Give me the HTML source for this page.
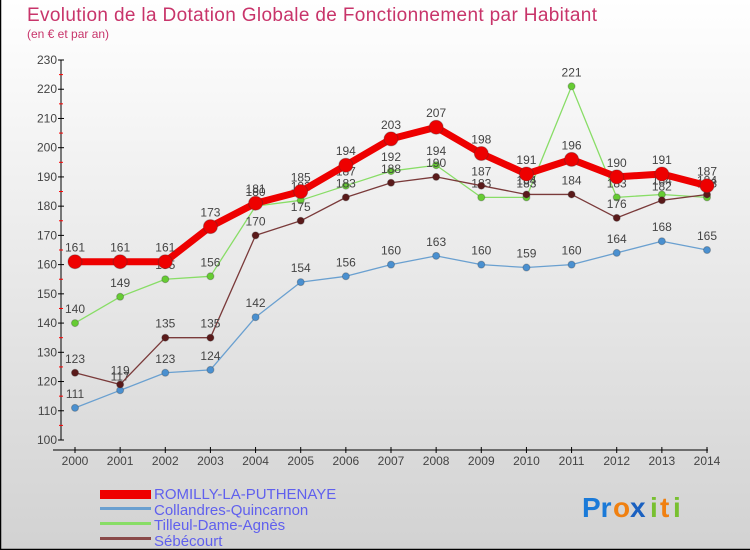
<!DOCTYPE html>
<html><head><meta charset="utf-8"><style>
html,body{margin:0;padding:0;width:750px;height:550px;overflow:hidden}
svg{display:block;font-family:"Liberation Sans",sans-serif}
</style></head><body>
<svg id="chart" width="750" height="550" xmlns="http://www.w3.org/2000/svg">
<defs><linearGradient id="bg" x1="0" y1="0" x2="0" y2="1"><stop offset="0" stop-color="#ffffff"/><stop offset="1" stop-color="#d2d2d2"/></linearGradient></defs>
<rect x="0" y="0" width="750" height="550" fill="url(#bg)"/>
<path d="M0.5,0 V549.5 H750" fill="none" stroke="#000" stroke-width="1.5"/>
<text x="27" y="21" font-size="19" fill="#c8346a" textLength="570">Evolution de la Dotation Globale de Fonctionnement par Habitant</text>
<text x="27" y="38" font-size="12" fill="#c8346a">(en € et par an)</text>
<g id="axes"></g><g id="series"></g>
<g font-size="15" fill="#6060ee">
<rect x="100" y="490" width="51" height="9" fill="#e00"/>
<text x="154" y="499">ROMILLY-LA-PUTHENAYE</text>
<rect x="100" y="507" width="51" height="3" fill="#6aa0d0"/>
<text x="154" y="515">Collandres-Quincarnon</text>
<rect x="100" y="522" width="51" height="3" fill="#88dd66"/>
<text x="154" y="530">Tilleul-Dame-Agnès</text>
<rect x="100" y="537" width="51" height="3" fill="#8a4a4a"/>
<text x="154" y="546">Sébécourt</text>
</g>
<g font-size="28" font-weight="bold">
<text x="582" y="517" fill="#1a7ad8">Pr</text><text x="613" y="517" fill="#f08010">o</text><text x="630" y="517" fill="#1a60c0">x</text><text x="650" y="517" fill="#78c030">i</text><text x="660" y="517" fill="#f08010">t</text><text x="673" y="517" fill="#78c030">i</text>
</g>
</svg>
<script>
const years=["2000","2001","2002","2003","2004","2005","2006","2007","2008","2009","2010","2011","2012","2013","2014"];
const yTicks=[100,110,120,130,140,150,160,170,180,190,200,210,220,230];
const romilly=[161,161,161,173,181,185,194,203,207,198,191,196,190,191,187];
const collandres=[111,117,123,124,142,154,156,160,163,160,159,160,164,168,165];
const tilleul=[140,149,155,156,180,182,187,192,194,183,183,221,183,184,183];
const sebecourt=[123,119,135,135,170,175,183,188,190,187,184,184,176,182,184];
const NS="http://www.w3.org/2000/svg";
function xS(i){return 75+i*(707-75)/(years.length-1);}
function yS(v){return 440-(v-100)*(380/130);}
function mk(tag,attrs,parent){const e=document.createElementNS(NS,tag);for(const k in attrs)e.setAttribute(k,attrs[k]);parent.appendChild(e);return e;}
const axes=document.getElementById('axes');
let yl=mk('line',{x1:61,y1:60,x2:61,y2:440,stroke:'#000','stroke-width':1},axes);


let xl=mk('line',{x1:53,y1:450,x2:708,y2:450,stroke:'#000','stroke-width':1},axes);


yTicks.forEach((v,i)=>{
  mk('line',{x1:58,x2:64,y1:yS(v),y2:yS(v),stroke:'#000'},axes);
  if(i<yTicks.length-1){mk('line',{x1:59,x2:63,y1:yS(v+5),y2:yS(v+5),stroke:'#f00'},axes);}
  const t=mk('text',{x:57,y:yS(v)+4,'font-size':12,fill:'#444','text-anchor':'end'},axes);
  t.textContent=v;
  
  
});
years.forEach((y,i)=>{
  mk('line',{x1:xS(i),x2:xS(i),y1:447,y2:453,stroke:'#000'},axes);
  const t=mk('text',{x:xS(i),y:465,'font-size':12,fill:'#444','text-anchor':'middle'},axes);
  t.textContent=y;
  
  
});
const sg=document.getElementById('series');
function draw(data,name,color,dotFill,lw,r){
  const g=mk('g',{},sg);
  
  
  const p=mk('polyline',{points:data.map((v,i)=>xS(i)+','+yS(v)).join(' '),fill:'none',stroke:color,'stroke-width':lw,'stroke-linejoin':'round'},g);
  
  
  data.forEach((v,i)=>{
    const c=mk('circle',{cx:xS(i),cy:yS(v),r:r,fill:dotFill,stroke:'#333','stroke-opacity':0.3},g);
    
    
    const t=mk('text',{x:xS(i),y:yS(v)-10,'font-size':12,fill:'#444','text-anchor':'middle'},g);
    t.textContent=v;
    
    
  });
}
draw(collandres,'collandres','#6aa0d0','#4a90d0',1.3,3.5);
draw(tilleul,'tilleul','#88dd66','#66cc33',1.3,3.5);
draw(sebecourt,'sebecourt','#7a3a3a','#5a1a1a',1.3,3.5);
draw(romilly,'romilly','#ee0000','#ee0000',7,7);
</script>
</body></html>
